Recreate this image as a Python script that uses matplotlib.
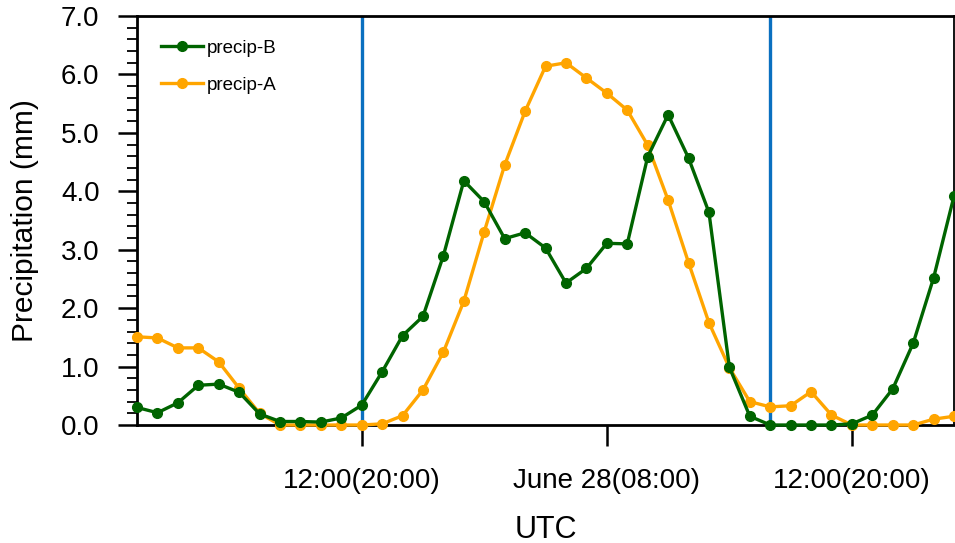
import matplotlib.pyplot as plt
import numpy as np

plt.rcParams['font.family'] = ['Liberation Sans', 'DejaVu Sans']

# hourly data, hour 0 = 01:00 UTC June 27
hours = np.arange(41)
precip_b = [0.30, 0.21, 0.38, 0.68, 0.70, 0.56, 0.19, 0.06, 0.06, 0.05,
            0.12, 0.34, 0.91, 1.53, 1.86, 2.90, 4.18, 3.82, 3.19, 3.29,
            3.03, 2.43, 2.68, 3.11, 3.10, 4.59, 5.31, 4.57, 3.64, 0.99,
            0.15, 0.00, 0.00, 0.00, 0.00, 0.02, 0.17, 0.62, 1.40, 2.52,
            3.92]
precip_a = [1.51, 1.49, 1.32, 1.32, 1.08, 0.63, 0.20, 0.00, 0.00, 0.00,
            0.00, 0.00, 0.02, 0.16, 0.60, 1.25, 2.12, 3.31, 4.45, 5.37,
            6.14, 6.20, 5.94, 5.68, 5.39, 4.79, 3.85, 2.78, 1.75, 0.98,
            0.40, 0.31, 0.33, 0.57, 0.17, 0.00, 0.00, 0.00, 0.00, 0.10,
            0.15]
tick_pos = [11, 23, 35]
tick_labels = ['12:00(20:00)', 'June 28(08:00)', '12:00(20:00)']
vlines = [11, 31]

fig = plt.figure(figsize=(9.55, 5.43), dpi=100)
ax = fig.add_axes([0.1435, 0.2173, 0.8555, 0.7532])

la, = ax.plot(hours, precip_a, color='#FFA500', lw=2.4, marker='o', ms=7,
              label='precip-A', clip_on=False, zorder=3)
lb, = ax.plot(hours, precip_b, color='#006400', lw=2.4, marker='o', ms=7,
              label='precip-B', clip_on=False, zorder=4)
for v in vlines:
    ax.axvline(v, color='#0A70C0', lw=2.4, zorder=2)

ax.set_xlim(0, 40)
ax.set_ylim(0, 7)
ax.set_xticks(tick_pos)
ax.set_xticklabels(tick_labels)
ax.set_yticks(np.arange(0, 7.1, 1))
ax.set_yticklabels(['%.1f' % v for v in np.arange(0, 7.1, 1)])
ax.set_yticks(np.arange(0, 7.01, 0.2), minor=True)

ax.tick_params(axis='y', which='major', direction='out', length=14, width=1.8,
               labelsize=20, pad=13)
ax.tick_params(axis='y', which='minor', direction='out', length=7, width=1.3)
ax.tick_params(axis='x', which='major', direction='out', length=15, width=1.8,
               labelsize=20, pad=16)
for s in ax.spines.values():
    s.set_linewidth(2)
ax.spines['right'].set_linewidth(1.3)

ax.set_ylabel('Precipitation (mm)', fontsize=21.5, labelpad=16)
ax.set_xlabel('UTC', fontsize=22, labelpad=15)

ax.legend(handles=[lb, la], loc='upper left', frameon=False, fontsize=13.5,
          handlelength=2.2, handletextpad=0.25, labelspacing=1.05,
          bbox_to_anchor=(0.009, 0.983))

fig.savefig('out.png', dpi=100)
